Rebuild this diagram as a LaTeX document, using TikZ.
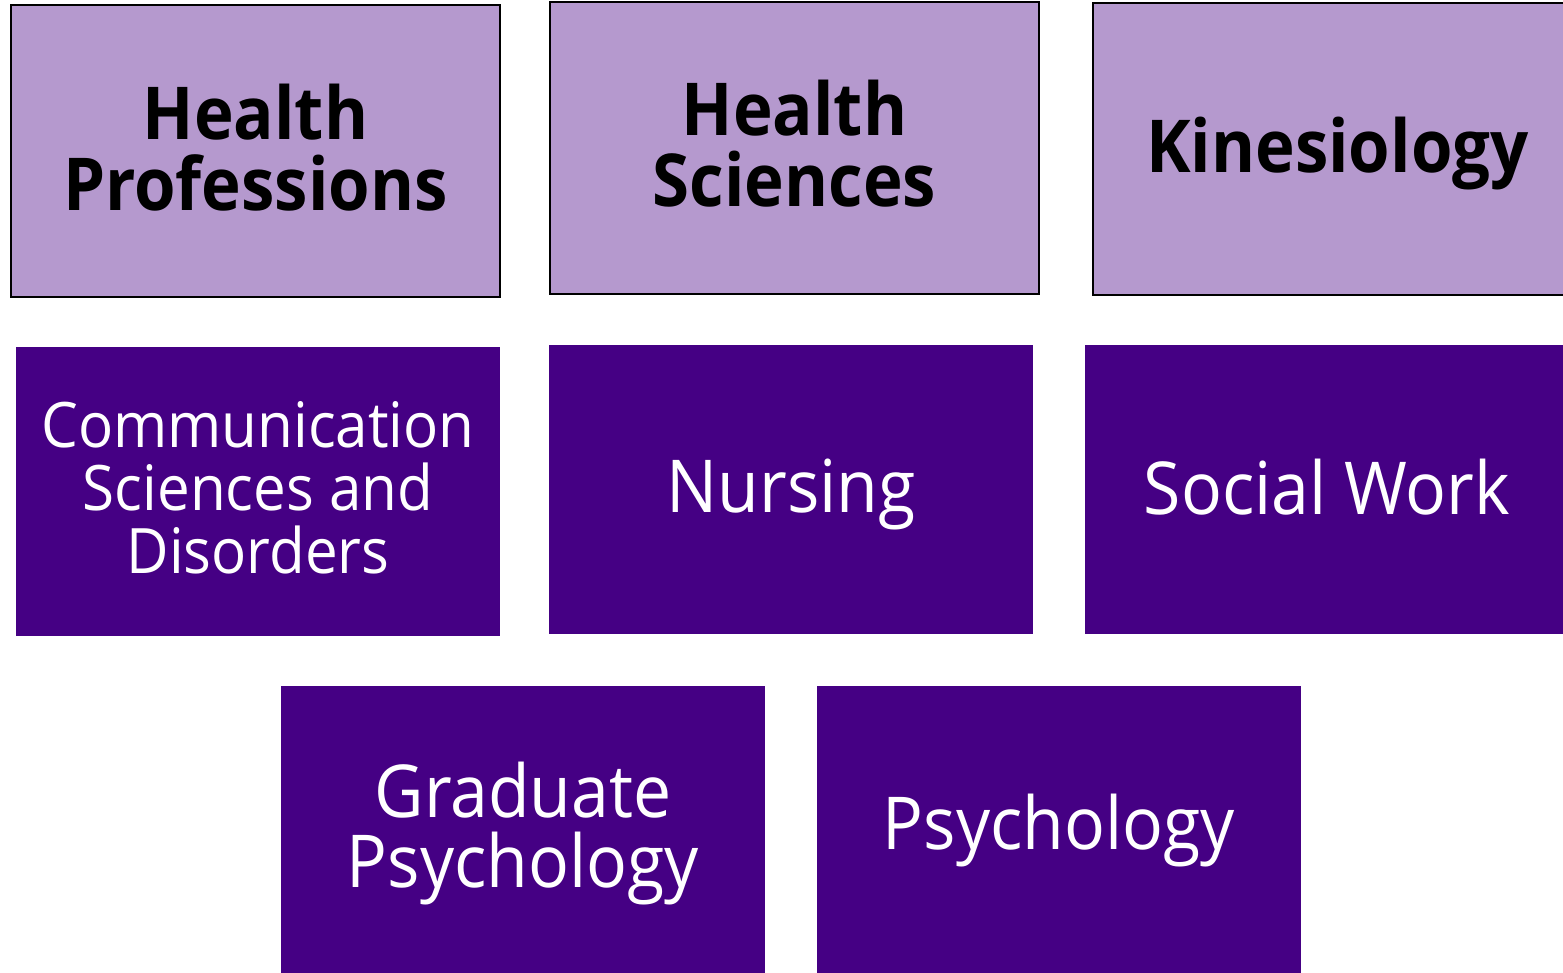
\documentclass[tikz,border=0pt]{standalone}
\usepackage{fontspec}
\setmainfont{Open Sans}[FakeStretch=0.93]
\newfontfamily\headfont{Open Sans}[FakeStretch=0.92]
\definecolor{lightpurple}{HTML}{B599CE}
\definecolor{darkpurple}{HTML}{450084}
\tikzset{
  x=1pt, y=-1pt,
  tile/.style={rectangle, inner sep=0pt, minimum width=484pt, minimum height=289pt},
  topbox/.style={tile, fill=lightpurple, draw=black, line width=2.5pt, minimum width=489pt, minimum height=292pt},
  unitbox/.style={tile, fill=darkpurple},
  headtext/.style={inner sep=0pt, align=center, text=black, font=\headfont\bfseries\fontsize{73}{71}\selectfont},
  unittext/.style={inner sep=0pt, align=center, text=white, font=\fontsize{73}{70}\selectfont},
}
\begin{document}
\begin{tikzpicture}
\useasboundingbox (0,0) rectangle (1563,973);
\clip (0,0) rectangle (1563,973);
% upper row: light tiles with a black frame
\node[topbox] (hp) at (255.5,151) {};
\node[topbox] (hs) at (794.5,148) {};
\node[topbox] (kin) at (1337.5,149) {};
% middle row
\node[unitbox] (csd) at (258,491.5) {};
\node[unitbox] (nur) at (791,489.5) {};
\node[unitbox] (sw) at (1327,489.5) {};
% lower row
\node[unitbox] (gp) at (523,830.5) {};
\node[unitbox] (psy) at (1059,830.5) {};
% tile captions
\node[headtext] (hpt) at ([yshift=3pt]hp.center) {Health\\Professions};
\node[headtext] (hst) at ([yshift=4pt]hs.center) {Health\\Sciences};
\node[headtext] (kint) at ([yshift=-5pt]kin.center) {Kinesiology};
\node[unittext, font=\fontsize{62.7}{63}\selectfont] (csdt) at ([yshift=4pt]csd.center) {Communication\\Sciences and\\Disorders};
\node[unittext] (nurt) at ([yshift=-5pt]nur.center) {Nursing};
\node[unittext] (swt) at ([yshift=2pt]sw.center) {Social Work};
\node[unittext] (gpt) at ([yshift=-3pt]gp.center) {Graduate\\Psychology};
\node[unittext] (psyt) at (psy.center) {Psychology};
\end{tikzpicture}
\end{document}
